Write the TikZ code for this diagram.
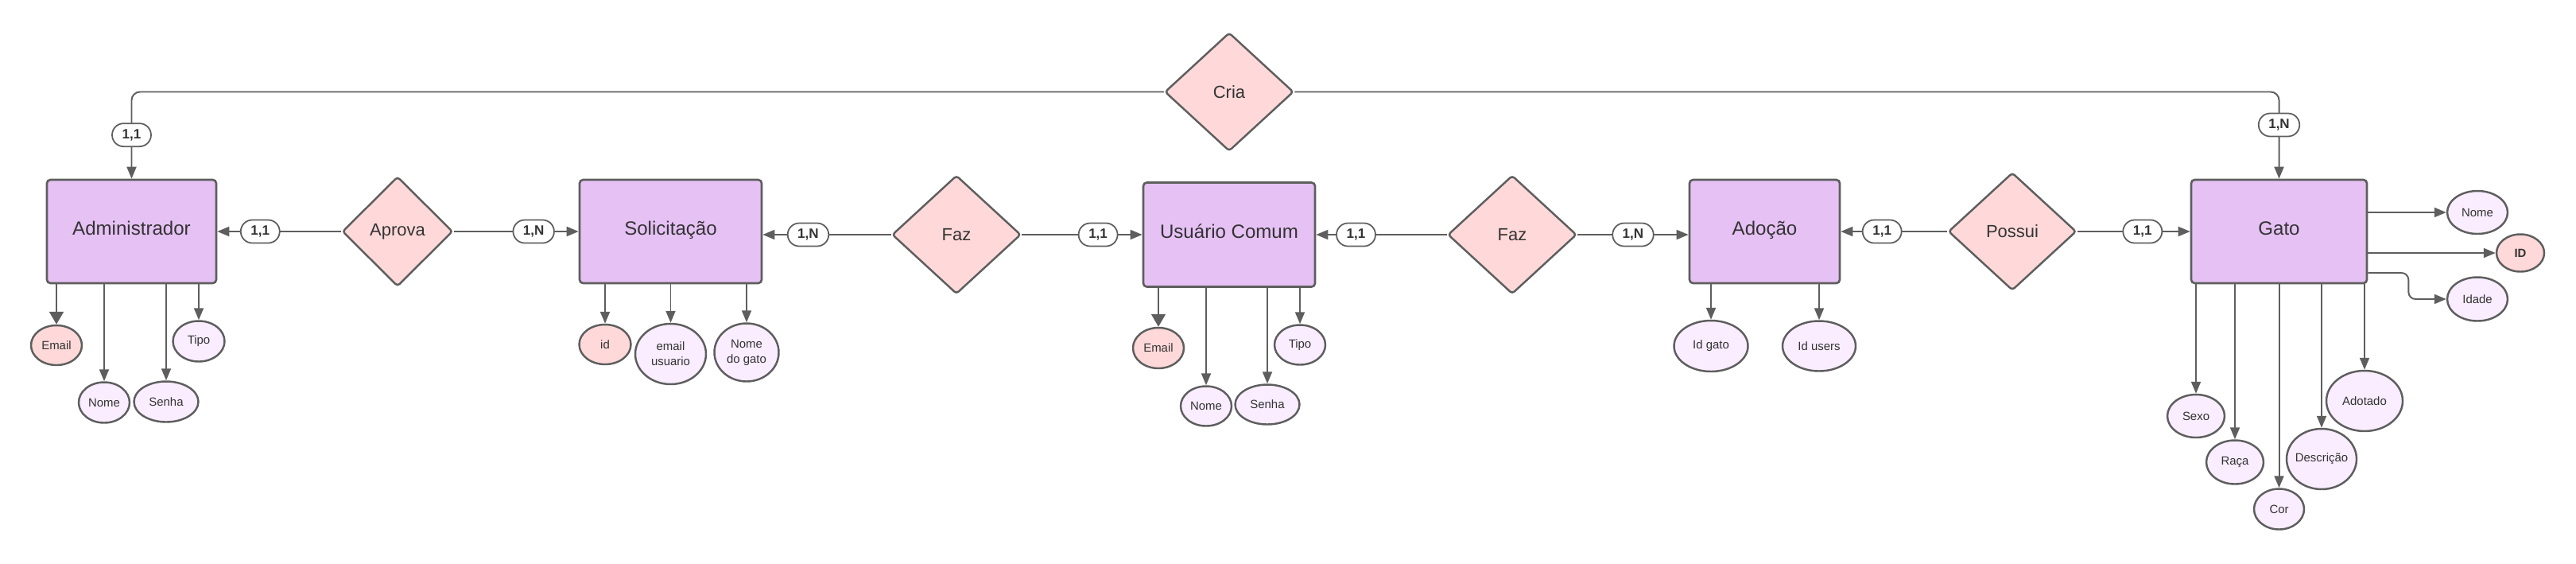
\documentclass[tikz,border=0pt]{standalone}
\usepackage{fontspec}
\setmainfont{Liberation Sans}
\usepackage{tikz}
\usetikzlibrary{shapes.geometric, arrows.meta, calc, positioning}
\definecolor{linecol}{RGB}{94,94,94}
\definecolor{textcol}{RGB}{51,51,51}
\definecolor{entfill}{RGB}{230,193,244}
\definecolor{relfill}{RGB}{255,217,217}
\definecolor{attfill}{RGB}{249,237,255}
\tikzstyle{entity} = [rectangle, rounded corners=2.5pt, line width=1.5pt, draw=linecol, fill=entfill, text=textcol, text height=0.36cm, text depth=0.196cm, font=\fontsize{13.7}{16}\selectfont]
\tikzstyle{relation} = [diamond, rounded corners=2pt, line width=1.4pt, draw=linecol, fill=relfill, text=textcol, inner sep=1pt, font=\fontsize{12.5}{15}\selectfont]
\tikzstyle{attr} = [ellipse, line width=1.4pt, draw=linecol, fill=attfill, text=textcol, inner sep=1pt, font=\fontsize{8.5}{10.8}\selectfont]
\tikzstyle{keyattr} = [attr, fill=relfill]
\tikzstyle{card} = [rectangle, rounded corners=0.29cm, line width=1pt, draw=linecol, fill=white, text=textcol, minimum width=0.98cm, minimum height=0.58cm, inner xsep=0.25cm, inner ysep=0pt, font=\bfseries\fontsize{9.7}{11}\selectfont]
\tikzstyle{arrow} = [line width=1.1pt, draw=linecol, ->, >={Triangle[length=0.3cm, width=0.24cm]}]
\tikzstyle{bigarrow} = [arrow, >={Triangle[length=0.32cm, width=0.36cm]}]

\begin{document}
\begin{tikzpicture}[on grid]
	\useasboundingbox (0,0) rectangle (64.8,-14.16);
	\node (Admin) [entity, minimum width=4.26cm, minimum height=2.6cm] at (3.31,-5.82) {Administrador};
	\node (Aprova) [relation, minimum width=2.78cm, minimum height=2.76cm, right=6.69cm of Admin] {Aprova};
	\node (Solicit) [entity, minimum width=4.58cm, minimum height=2.6cm, right=6.87cm of Aprova] {Solicitação};
	\node (Faz1) [relation, minimum width=3.24cm, minimum height=2.98cm, below right=0.08cm and 7.19cm of Solicit] {Faz};
	\node (Usuario) [entity, minimum width=4.32cm, minimum height=2.62cm, right=6.86cm of Faz1] {Usuário Comum};
	\node (Faz2) [relation, minimum width=3.24cm, minimum height=2.98cm, right=7.12cm of Usuario] {Faz};
	\node (Adocao) [entity, minimum width=3.78cm, minimum height=2.6cm, above right=0.08cm and 6.35cm of Faz2] {Adoção};
	\node (Possui) [relation, minimum width=3.22cm, minimum height=2.96cm, right=6.23cm of Adocao] {Possui};
	\node (Gato) [entity, minimum width=4.42cm, minimum height=2.6cm, right=6.71cm of Possui] {Gato};
	\node (Cria) [relation, minimum width=3.24cm, minimum height=2.98cm, above=3.59cm of Usuario] {Cria};

	\node (AdmEmail) [keyattr, minimum width=1.28cm, minimum height=1.0cm, below left=2.86cm and 1.89cm of Admin] {Email};
	\node (AdmNome) [attr, minimum width=1.28cm, minimum height=1.02cm, below left=4.3cm and 0.69cm of Admin] {Nome};
	\node (AdmSenha) [attr, minimum width=1.62cm, minimum height=1.02cm, below right=4.28cm and 0.87cm of Admin] {Senha};
	\node (AdmTipo) [attr, minimum width=1.3cm, minimum height=1.02cm, below right=2.76cm and 1.69cm of Admin] {Tipo};
	\node (SolId) [keyattr, minimum width=1.3cm, minimum height=1.0cm, below left=2.84cm and 1.65cm of Solicit] {id};
	\node (SolEmail) [attr, align=center, minimum width=1.78cm, minimum height=1.52cm, below=3.08cm of Solicit] {email\\usuario};
	\node (SolGato) [attr, align=center, minimum width=1.62cm, minimum height=1.46cm, below right=3.04cm and 1.91cm of Solicit] {Nome\\do gato};
	\node (UsuEmail) [keyattr, minimum width=1.28cm, minimum height=1.02cm, below left=2.85cm and 1.78cm of Usuario] {Email};
	\node (UsuNome) [attr, minimum width=1.28cm, minimum height=1.0cm, below left=4.31cm and 0.58cm of Usuario] {Nome};
	\node (UsuSenha) [attr, minimum width=1.62cm, minimum height=1.0cm, below right=4.27cm and 0.96cm of Usuario] {Senha};
	\node (UsuTipo) [attr, minimum width=1.28cm, minimum height=1.0cm, below right=2.77cm and 1.78cm of Usuario] {Tipo};
	\node (AdoGato) [attr, minimum width=1.86cm, minimum height=1.28cm, below left=2.88cm and 1.35cm of Adocao] {Id gato};
	\node (AdoUsers) [attr, minimum width=1.84cm, minimum height=1.26cm, below right=2.88cm and 1.37cm of Adocao] {Id users};
	\node (GatoNome) [attr, minimum width=1.52cm, minimum height=1.08cm, above right=0.48cm and 4.99cm of Gato] {Nome};
	\node (GatoId) [keyattr, minimum width=1.2cm, minimum height=0.94cm, below right=0.54cm and 6.07cm of Gato] {\textbf{ID}};
	\node (GatoIdade) [attr, minimum width=1.52cm, minimum height=1.1cm, below right=1.7cm and 4.99cm of Gato] {Idade};
	\node (GatoSexo) [attr, minimum width=1.44cm, minimum height=1.08cm, below left=4.64cm and 2.09cm of Gato] {Sexo};
	\node (GatoRaca) [attr, minimum width=1.44cm, minimum height=1.1cm, below left=5.8cm and 1.11cm of Gato] {Raça};
	\node (GatoCor) [attr, minimum width=1.26cm, minimum height=1.02cm, below=6.98cm of Gato] {Cor};
	\node (GatoDescr) [attr, inner xsep=-1.5pt, minimum width=1.76cm, minimum height=1.52cm, below right=5.72cm and 1.07cm of Gato] {Descrição};
	\node (GatoAdot) [attr, minimum width=1.92cm, minimum height=1.52cm, below right=4.26cm and 2.15cm of Gato] {Adotado};

	\draw [arrow] (Aprova) -- node[card, pos=0.654] (CardAdm) {1,1} (Admin);
	\draw [arrow] (Aprova) -- node[card, pos=0.64] (CardSol1) {1,N} (Solicit);
	\draw [arrow] (Faz1) -- node[card, pos=0.646] (CardSol2) {1,N} (Solicit.east |- Faz1);
	\draw [arrow] (Faz1) -- node[card, pos=0.633] (CardUsu1) {1,1} (Usuario);
	\draw [arrow] (Faz2) -- node[card, pos=0.695] (CardUsu2) {1,1} (Usuario);
	\draw [arrow] (Faz2) -- node[card, pos=0.5] (CardAdo1) {1,N} (Adocao.west |- Faz2);
	\draw [arrow] (Possui) -- node[card, pos=0.613] (CardAdo2) {1,1} (Adocao);
	\draw [arrow] (Possui) -- node[card, pos=0.578] (CardGato1) {1,1} (Gato);
	\draw [arrow, rounded corners=6pt] (Cria) -| node[card, pos=0.748] (CardAdm2) {1,1} (Admin);
	\draw [arrow, rounded corners=6pt] (Cria) -| node[card, pos=0.69] (CardGato2) {1,N} (Gato);

	\draw [bigarrow] (Admin.south -| AdmEmail) -- (AdmEmail);
	\draw [arrow] (Admin.south -| AdmNome) -- (AdmNome);
	\draw [arrow] (Admin.south -| AdmSenha) -- (AdmSenha);
	\draw [arrow] (Admin.south -| AdmTipo) -- (AdmTipo);
	\draw [arrow] (Solicit.south -| SolId) -- (SolId);
	\draw [arrow] (Solicit.south -| SolEmail) -- (SolEmail);
	\draw [arrow] (Solicit.south -| SolGato) -- (SolGato);
	\draw [bigarrow] (Usuario.south -| UsuEmail) -- (UsuEmail);
	\draw [arrow] (Usuario.south -| UsuNome) -- (UsuNome);
	\draw [arrow] (Usuario.south -| UsuSenha) -- (UsuSenha);
	\draw [arrow] (Usuario.south -| UsuTipo) -- (UsuTipo);
	\draw [arrow] (Adocao.south -| AdoGato) -- (AdoGato);
	\draw [arrow] (Adocao.south -| AdoUsers) -- (AdoUsers);
	\draw [arrow] (Gato.east |- GatoNome) -- (GatoNome);
	\draw [arrow] (Gato.east |- GatoId) -- (GatoId);
	\draw [arrow, rounded corners=5pt] ([yshift=-1.04cm]Gato.east) -- ++(1.02,0) |- (GatoIdade);
	\draw [arrow] (Gato.south -| GatoSexo) -- (GatoSexo);
	\draw [arrow] (Gato.south -| GatoRaca) -- (GatoRaca);
	\draw [arrow] (Gato.south -| GatoCor) -- (GatoCor);
	\draw [arrow] (Gato.south -| GatoDescr) -- (GatoDescr);
	\draw [arrow] (Gato.south -| GatoAdot) -- (GatoAdot);
\end{tikzpicture}
\end{document}
